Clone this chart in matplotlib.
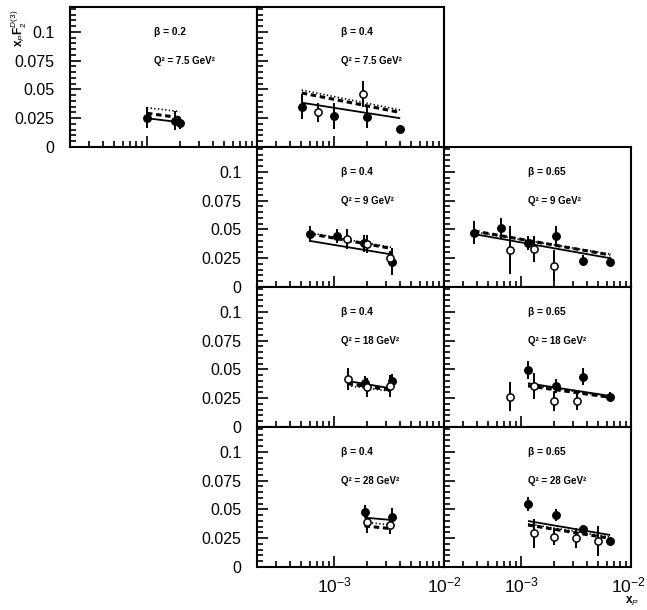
import matplotlib
matplotlib.use("Agg")
import matplotlib.pyplot as plt
import matplotlib.transforms as mtransforms
from matplotlib.ticker import FixedLocator, FixedFormatter, NullFormatter, LogLocator, MultipleLocator

plt.rcParams['font.family'] = ['Liberation Sans', 'DejaVu Sans']
plt.rcParams['mathtext.fontset'] = 'custom'
plt.rcParams['mathtext.rm'] = 'Liberation Sans'
plt.rcParams['mathtext.it'] = 'Liberation Sans:italic'
plt.rcParams['mathtext.bf'] = 'Liberation Sans:bold'

# ---------------- data ----------------
beta_labels = ["0.2", "0.4", "0.4", "0.65", "0.4", "0.65", "0.4", "0.65"]
q2_labels = ["7.5", "7.5", "9", "9", "18", "18", "28", "28"]

# Panel A: beta=0.2, Q2=7.5
A_fx = [1.0e-3, 1.8e-3, 2.0e-3]
A_fy = [0.0255, 0.023, 0.021]
A_fe = [0.009, 0.008, 0.005]
A_ox = []
A_oy = []
A_oe = []
A_cx = [1.0e-3, 2.0e-3]
A_solid = [0.025, 0.0215]
A_dash = [0.0293, 0.0255]
A_dot = [0.0342, 0.0307]

# Panel B: beta=0.4, Q2=7.5
B_fx = [5.1e-4, 1.0e-3, 2.0e-3, 3.95e-3]
B_fy = [0.035, 0.027, 0.026, 0.0155]
B_fe = [0.011, 0.011, 0.0095, 0.0038]
B_ox = [7.1e-4, 1.82e-3]
B_oy = [0.030, 0.046]
B_oe = [0.008, 0.0115]
B_cx = [5.1e-4, 4.0e-3]
B_solid = [0.0385, 0.025]
B_dash = [0.047, 0.030]
B_dot = [0.0495, 0.0322]

# Panel C: beta=0.4, Q2=9
C_fx = [6.1e-4, 1.06e-3, 1.88e-3, 3.4e-3]
C_fy = [0.0458, 0.0446, 0.038, 0.022]
C_fe = [0.007, 0.006, 0.0075, 0.0115]
C_ox = [1.31e-3, 2.0e-3, 3.22e-3]
C_oy = [0.0417, 0.0374, 0.025]
C_oe = [0.0085, 0.008, 0.006]
C_cx = [6.1e-4, 3.3e-3]
C_solid = [0.040, 0.0284]
C_dash = [0.0462, 0.0336]
C_dot = [0.047, 0.0345]

# Panel D: beta=0.65, Q2=9
D_fx = [3.75e-4, 6.6e-4, 1.16e-3, 2.07e-3, 3.67e-3, 6.47e-3]
D_fy = [0.047, 0.051, 0.038, 0.0443, 0.023, 0.022]
D_fe = [0.010, 0.0093, 0.006, 0.0085, 0.0045, 0.004]
D_ox = [8.0e-4, 1.32e-3, 2.0e-3]
D_oy = [0.032, 0.0328, 0.0183]
D_oe = [0.021, 0.0115, 0.0135]
D_cx = [3.75e-4, 6.5e-3]
D_solid = [0.046, 0.025]
D_dash = [0.0487, 0.0278]
D_dot = [0.048, 0.0285]

# Panel E: beta=0.4, Q2=18
E_fx = [1.9e-3, 3.38e-3]
E_fy = [0.0385, 0.0403]
E_fe = [0.006, 0.0058]
E_ox = [1.33e-3, 2.0e-3, 3.22e-3]
E_oy = [0.0417, 0.0345, 0.0357]
E_oe = [0.0098, 0.008, 0.0095]
E_cx = [1.33e-3, 3.3e-3]
E_solid = [0.040, 0.0336]
E_dash = [0.0377, 0.0322]
E_dot = [0.036, 0.031]

# Panel F: beta=0.65, Q2=18
F_fx = [1.16e-3, 2.07e-3, 3.64e-3, 6.47e-3]
F_fy = [0.0496, 0.0357, 0.0438, 0.0264]
F_fe = [0.0075, 0.006, 0.0073, 0.004]
F_ox = [8.0e-4, 1.32e-3, 2.0e-3, 3.2e-3]
F_oy = [0.0264, 0.0357, 0.0226, 0.0229]
F_oe = [0.0126, 0.0113, 0.0087, 0.008]
F_cx = [1.16e-3, 6.47e-3]
F_solid = [0.038, 0.027]
F_dash = [0.0357, 0.0258]
F_dot = [0.0368, 0.0264]

# Panel G: beta=0.4, Q2=28
G_fx = [1.9e-3, 3.38e-3]
G_fy = [0.0481, 0.0432]
G_fe = [0.0058, 0.008]
G_ox = [2.0e-3, 3.22e-3]
G_oy = [0.0394, 0.0365]
G_oe = [0.0095, 0.0075]
G_cx = [1.9e-3, 3.3e-3]
G_solid = [0.0429, 0.0409]
G_dash = [0.0357, 0.0333]
G_dot = [0.039, 0.0365]

# Panel H: beta=0.65, Q2=28
H_fx = [1.16e-3, 2.07e-3, 3.64e-3, 6.47e-3]
H_fy = [0.0545, 0.0452, 0.0328, 0.0229]
H_fe = [0.006, 0.0048, 0.004, 0.0033]
H_ox = [1.32e-3, 2.0e-3, 3.17e-3, 4.98e-3]
H_oy = [0.0293, 0.0264, 0.0249, 0.0229]
H_oe = [0.0124, 0.0073, 0.0087, 0.013]
H_cx = [1.16e-3, 6.47e-3]
H_solid = [0.040, 0.0278]
H_dash = [0.0365, 0.0249]
H_dot = [0.0375, 0.026]

ytick_vals = [0, 0.025, 0.05, 0.075, 0.1]
ytick_labels = ["0", "0.025", "0.05", "0.075", "0.1"]
xtick_vals = [1e-3, 1e-2]
xtick_labels = [r"$10^{-3}$", r"$10^{-2}$"]

panels = [
    (A_fx, A_fy, A_fe, A_ox, A_oy, A_oe, A_cx, A_solid, A_dash, A_dot),
    (B_fx, B_fy, B_fe, B_ox, B_oy, B_oe, B_cx, B_solid, B_dash, B_dot),
    (C_fx, C_fy, C_fe, C_ox, C_oy, C_oe, C_cx, C_solid, C_dash, C_dot),
    (D_fx, D_fy, D_fe, D_ox, D_oy, D_oe, D_cx, D_solid, D_dash, D_dot),
    (E_fx, E_fy, E_fe, E_ox, E_oy, E_oe, E_cx, E_solid, E_dash, E_dot),
    (F_fx, F_fy, F_fe, F_ox, F_oy, F_oe, F_cx, F_solid, F_dash, F_dot),
    (G_fx, G_fy, G_fe, G_ox, G_oy, G_oe, G_cx, G_solid, G_dash, G_dot),
    (H_fx, H_fy, H_fe, H_ox, H_oy, H_oe, H_cx, H_solid, H_dash, H_dot),
]

# (row, col) of each panel
grid_pos = [(0, 0), (0, 1), (1, 1), (1, 2), (2, 1), (2, 2), (3, 1), (3, 2)]

W, H = 647, 610
fig = plt.figure(figsize=(W / 100, H / 100), dpi=100)

col_left = [70, 257, 444]
col_w = 187
row_top = [7, 147, 287, 427]
row_h = 140

for i, (pdata, (r, c)) in enumerate(zip(panels, grid_pos)):
    fx, fy, fe, ox, oy, oe, cx, cs, cd, cdot = pdata
    left = col_left[c] / W
    bottom = (H - (row_top[r] + row_h)) / H
    ax = fig.add_axes([left, bottom, col_w / W, row_h / H])
    ax.set_xscale('log')
    ax.set_xlim(2e-4, 1e-2)
    ax.set_ylim(0, 0.1217)

    # theory curves
    ax.plot(cx, cs, color='black', lw=1.3, solid_capstyle='butt', zorder=2)
    ax.plot(cx, cd, color='black', lw=2.2, dashes=(1.8, 1.2), zorder=2)
    ax.plot(cx, cdot, color='black', lw=1.2, dashes=(0.8, 1.4), zorder=2)

    # data
    if fx:
        ax.errorbar(fx, fy, yerr=fe, fmt='o', color='black', ms=5.4,
                    mfc='black', mec='black', elinewidth=1.4, capsize=0, zorder=4)
    if ox:
        ax.errorbar(ox, oy, yerr=oe, fmt='o', color='black', ms=5.2,
                    mfc='white', mec='black', mew=1.1, elinewidth=1.4, capsize=0, zorder=5)

    # annotation
    ax.text(0.45, 0.1, "\u03b2 = " + beta_labels[i], transform=ax.get_yaxis_transform(),
            fontsize=7.3, fontweight='bold', va='center', ha='left')
    ax.text(0.45, 0.075, "Q\u00b2 = " + q2_labels[i] + " GeV\u00b2",
            transform=ax.get_yaxis_transform(),
            fontsize=7, fontweight='bold', va='center', ha='left')

    # ticks
    ax.xaxis.set_major_locator(FixedLocator(xtick_vals))
    ax.xaxis.set_minor_locator(LogLocator(base=10, subs=[2, 3, 4, 5, 6, 7, 8, 9], numticks=20))
    ax.xaxis.set_minor_formatter(NullFormatter())
    ax.yaxis.set_major_locator(FixedLocator(ytick_vals))
    ax.yaxis.set_minor_locator(MultipleLocator(0.005))

    show_x = (r == 3)
    show_y = (c == 0) or (c == 1 and r > 0)
    if show_x:
        ax.xaxis.set_major_formatter(FixedFormatter(xtick_labels))
    else:
        ax.xaxis.set_major_formatter(NullFormatter())
    if show_y:
        ax.yaxis.set_major_formatter(FixedFormatter(ytick_labels))
    else:
        ax.yaxis.set_major_formatter(NullFormatter())

    ax.tick_params(axis='both', which='both', direction='in', top=False, right=False, width=1.2)
    ax.tick_params(axis='both', which='major', length=8)
    ax.tick_params(axis='both', which='minor', length=4)
    ax.tick_params(axis='y', which='major', labelsize=11.5, pad=11)
    ax.tick_params(axis='x', which='major', labelsize=12.5, pad=6)
    for s in ax.spines.values():
        s.set_linewidth(1.5)

    if show_x and c == 2:
        # nudge the right-most label so it stays inside the figure
        lab = ax.xaxis.get_majorticklabels()[-1]
        lab.set_transform(lab.get_transform() +
                          mtransforms.ScaledTranslation(-3 / 100, 0, fig.dpi_scale_trans))

fig.text(19 / W, 1 - 28 / H, r"x$_P$F$_2^{D(3)}$", rotation=90, fontsize=8.5,
         fontweight='bold', ha='center', va='center')
fig.text(632 / W, 1 - 601 / H, r"x$_P$", fontsize=8.5, fontweight='bold',
         ha='center', va='center')

fig.savefig("out.png", dpi=100)
